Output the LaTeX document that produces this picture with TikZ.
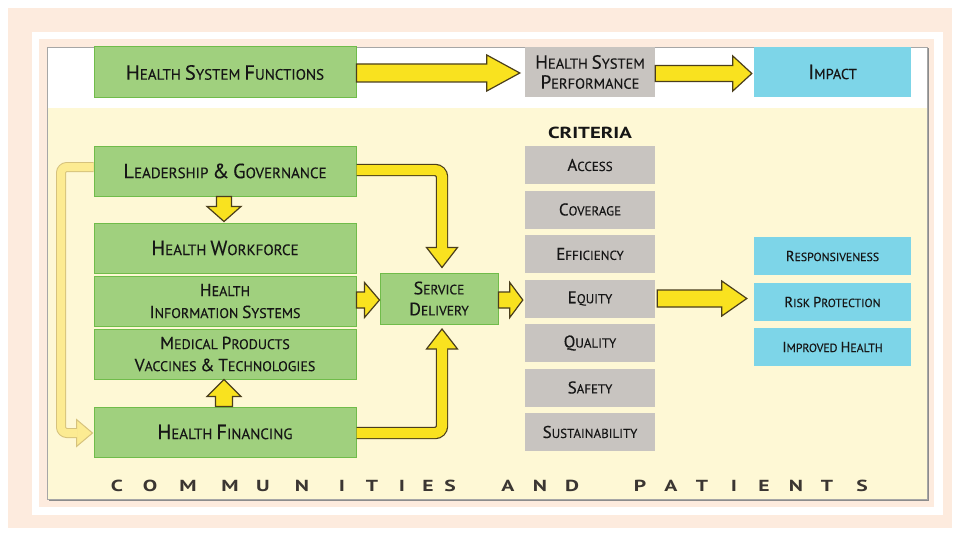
\documentclass[tikz,border=0pt]{standalone}
\usepackage{fontspec}
\setmainfont{PT Sans}[FakeBold=0.3]
\newfontfamily\headfont{PT Sans Bold}
\usetikzlibrary{calc}
\definecolor{peach}{HTML}{FDEBDE}
\definecolor{panel}{HTML}{FEF8D5}
\definecolor{gfill}{HTML}{A0D07E}
\definecolor{gline}{HTML}{70BC4A}
\definecolor{grayb}{HTML}{C8C4C0}
\definecolor{cyanb}{HTML}{7DD5E8}
\definecolor{yel}{HTML}{F9E21F}
\definecolor{yline}{HTML}{4A3E1C}
\definecolor{pyel}{HTML}{FCEB92}
\definecolor{pline}{HTML}{D6C27C}
\definecolor{txt}{HTML}{161616}
\definecolor{btxt}{HTML}{3B3632}
\newcommand\KA[1]{{\fontsize{20.5pt}{22pt}\selectfont #1}}
\newcommand\KB[1]{{\fontsize{17.5pt}{22pt}\selectfont #1}}
\newcommand\KE[1]{{\fontsize{19pt}{22pt}\selectfont #1}}
\newcommand\KC[1]{{\fontsize{17pt}{18pt}\selectfont #1}}
\newcommand\KD[1]{{\fontsize{14.5pt}{18pt}\selectfont #1}}
\newcommand\KS[1]{{\fontsize{18pt}{21pt}\selectfont #1}}
\newcommand\HArrow[6]{%
  \draw[#1] let \p1=#2, \p2=#3 in
   (\x1,{\y2+#4}) -- ({\x2-#6},{\y2+#4}) -- ({\x2-#6},{\y2+#5}) -- (\x2,\y2)
   -- ({\x2-#6},{\y2-#5}) -- ({\x2-#6},{\y2-#4}) -- (\x1,{\y2-#4}) -- cycle;}
\newcommand\VArrow[6]{%
  \draw[#1] let \p1=#2, \p2=#3 in
   ({\x2-#4},\y1) -- ({\x2-#4},{\y2-(#6)}) -- ({\x2-#5},{\y2-(#6)}) -- (\x2,\y2)
   -- ({\x2+#5},{\y2-(#6)}) -- ({\x2+#4},{\y2-(#6)}) -- ({\x2+#4},\y1) -- cycle;}
\begin{document}
\begin{tikzpicture}[x=1pt,y=-1pt,
  box/.style={inner sep=0pt, text=txt, align=center},
  gbox/.style={box, draw=gline, line width=1pt, fill=gfill, minimum width=262pt, minimum height=50pt, font=\fontsize{15pt}{22pt}\selectfont},
  gbox2/.style={gbox, font=\fontsize{14pt}{22pt}\selectfont},
  topgray/.style={box, fill=grayb, minimum width=130pt, minimum height=50pt, font=\fontsize{14.5pt}{20pt}\selectfont},
  crit/.style={box, fill=grayb, minimum width=130pt, minimum height=38pt, font=\fontsize{13pt}{16pt}\selectfont},
  cyantop/.style={box, fill=cyanb, minimum width=157pt, minimum height=50pt, font=\fontsize{14.5pt}{20pt}\selectfont},
  cyanres/.style={box, fill=cyanb, minimum width=157pt, minimum height=38pt, font=\fontsize{11.8pt}{16pt}\selectfont},
  sdbox/.style={box, draw=gline, line width=1pt, fill=gfill, minimum width=118pt, minimum height=51pt, font=\fontsize{13.5pt}{21pt}\selectfont},
  yarrow/.style={fill=yel, draw=yline, line width=1.2pt, line join=miter},
  parrow/.style={fill=pyel, draw=pline, line width=1pt, line join=miter},
  bletter/.style={inner sep=0pt, text=btxt, font=\fontsize{16pt}{16pt}\headfont}
]
\useasboundingbox (0,0) rectangle (957,532);
% background frames
\fill[white] (0,0) rectangle (957,532);
\fill[peach] (8,8) rectangle (952,528);
\fill[white] (32,32) rectangle (943,515);
\fill[peach] (39,39) rectangle (934,507);
\fill[black!45] (48.5,48.5) rectangle (929,501);
\fill[panel] (47,108) rectangle (927,499);
\fill[white] (47,47) rectangle (927,108);
\draw[black!35, line width=0.8pt] (47,47) rectangle (927,499);

% top row
\node[gbox, minimum height=51pt] (hsf) at (225,72.5) {\KA{H}EALTH \KA{S}YSTEM \KA{F}UNCTIONS};
\node[topgray] (hsp) at (590,72) {\KE{H}EALTH \KE{S}YSTEM\\\KE{P}ERFORMANCE};
\node[cyantop] (imp) at (832.5,72) {\KA{I}MPACT};

% criteria
\node[text=txt, font=\fontsize{16pt}{16pt}\headfont, inner sep=0pt] (crt) at (590,133) {\scalebox{1.3}[1]{CRITERIA}};
\node[crit] (acc) at (590,165) {\KC{A}CCESS};
\node[crit] (cov) at (590,209.5) {\KC{C}OVERAGE};
\node[crit] (eff) at (590,254) {\KC{E}FFICIENCY};
\node[crit] (equ) at (590,298.5) {\KC{E}QUITY};
\node[crit] (qua) at (590,343) {\KC{Q}UALITY};
\node[crit] (saf) at (590,387.5) {\KC{S}AFETY};
\node[crit] (sus) at (590,432) {\KC{S}USTAINABILITY};

% outcomes
\node[cyanres] (res) at (832.5,256) {\KD{R}ESPONSIVENESS};
\node[cyanres] (rsk) at (832.5,302) {\KD{R}ISK \KD{P}ROTECTION};
\node[cyanres] (imh) at (832.5,347) {\KD{I}MPROVED \KD{H}EALTH};

% building blocks
\node[gbox] (lg) at (225,171) {\KA{L}EADERSHIP \KA{\&} \KA{G}OVERNANCE};
\node[gbox] (hw) at (225,248) {\KA{H}EALTH \KA{W}ORKFORCE};
\node[gbox2] (his) at (225,301) {\KB{H}EALTH\\\KB{I}NFORMATION \KB{S}YSTEMS};
\node[gbox2] (mp) at (225,354) {\KB{M}EDICAL \KB{P}RODUCTS\\\KB{V}ACCINES \KB{\&} \KB{T}ECHNOLOGIES};
\node[gbox] (hf) at (225,432) {\KA{H}EALTH \KA{F}INANCING};
\node[sdbox] (sd) at (439,298.5) {\KS{S}ERVICE\\\KS{D}ELIVERY};

% straight arrows
\HArrow{yarrow}{(hsf.east)}{($(hsp.west)+(-5,1)$)}{9pt}{18pt}{33pt}
\HArrow{yarrow}{(hsp.east)}{($(imp.west)+(-2,1.5)$)}{8pt}{17.5pt}{19pt}
\HArrow{yarrow}{(his.east)}{($(sd.west)+(0,1.5)$)}{8pt}{17.5pt}{15pt}
\HArrow{yarrow}{(sd.east)}{($(equ.west)+(-2,1.5)$)}{8pt}{17.5pt}{13pt}
\HArrow{yarrow}{($(equ.east)+(2,0)$)}{($(rsk.west)+(-7,-3.5)$)}{8.5pt}{17.5pt}{25pt}
\VArrow{yarrow}{(lg.south)}{($(hw.north)+(-1,-1)$)}{7.5pt}{17pt}{-15pt}
\VArrow{yarrow}{(hf.north)}{($(mp.south)+(-1,0)$)}{8.5pt}{17pt}{17pt}

% bent arrows into service delivery
\coordinate (t1) at ($(sd.north)+(3,-5)$);
\coordinate (t2) at ($(sd.south)+(3,4.5)$);
\draw[yline, line width=12.4pt, rounded corners=7pt] ($(lg.east)+(0,-1)$) -| ($(t1)+(0,-19.5)$);
\draw[yarrow] ($(t1)+(-15.5,-20)$) -- (t1) -- ($(t1)+(15.5,-20)$) -- cycle;
\draw[yel, line width=10pt, rounded corners=7pt] ($(lg.east)+(0,-1)$) -| ($(t1)+(0,-18.6)$);
\draw[yline, line width=12.4pt, rounded corners=7pt] ($(hf.east)+(0,1)$) -| ($(t2)+(0,19.5)$);
\draw[yarrow] ($(t2)+(-15.5,20)$) -- (t2) -- ($(t2)+(15.5,20)$) -- cycle;
\draw[yel, line width=10pt, rounded corners=7pt] ($(hf.east)+(0,1)$) -| ($(t2)+(0,18.6)$);

% pale loop arrow from leadership to financing
\coordinate (t3) at ($(hf.west)+(-1,1)$);
\draw[pline, line width=10pt, rounded corners=6pt] ($(lg.west)+(0,-4)$) -- (61,167) -- (61,433) -- ($(t3)+(-15.5,0)$);
\draw[parrow] ($(t3)+(-16,-13.5)$) -- (t3) -- ($(t3)+(-16,13.5)$) -- cycle;
\draw[pyel, line width=8pt, rounded corners=6pt] ($(lg.west)+(0,-4)$) -- (61,167) -- (61,433) -- ($(t3)+(-15,0)$);

% communities and patients
\foreach \ch/\px [count=\i] in {C/117,O/150,M/188,M/230,U/263,N/302,I/342,T/372,I/402,E/428,S/450,A/508,N/540,D/572,P/640,A/671,T/702,I/734,E/764,N/796,T/827,S/862}
  \node[bletter] (cp\i) at (\px,486) {\scalebox{1.35}[1]{\ch}};
\end{tikzpicture}
\end{document}
